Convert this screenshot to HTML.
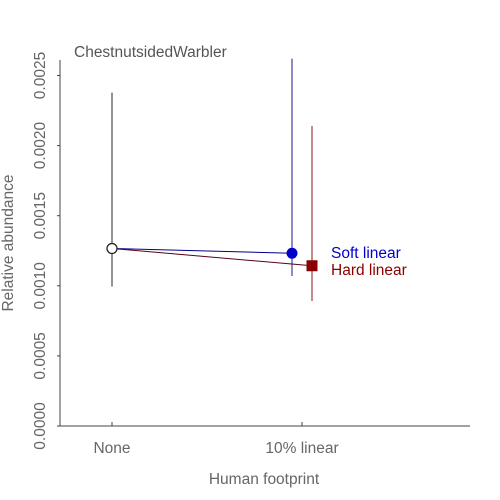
<!DOCTYPE html>
<html><head><meta charset="utf-8"><style>
body{margin:0;background:#fff}
svg{display:block;font-family:"Liberation Sans",sans-serif}
</style></head><body>
<svg width="500" height="500">
<g id="axes"></g>
<g id="marks"></g>
</svg>
<script>
const categories=["None","10% linear"];
const yTicks=[0,0.0005,0.0010,0.0015,0.0020,0.0025];
const yTickLabels=["0.0000","0.0005","0.0010","0.0015","0.0020","0.0025"];
const baseMean=[0.001266];
const baseLow=[0.000994];
const baseHigh=[0.002378];
const softMean=[0.001232];
const softLow=[0.00107];
const softHigh=[0.00262];
const hardMean=[0.001143];
const hardLow=[0.000892];
const hardHigh=[0.00214];
const NS="http://www.w3.org/2000/svg";
const FS=15.5;
const xS=i=>112+i*190;
const yS=v=>426-v*140200;
function mk(p,t,a,name){const e=document.createElementNS(NS,t);for(const k in a)e.setAttribute(k,a[k]);


p.appendChild(e);return e;}
const ax=document.getElementById('axes'),mg=document.getElementById('marks');
mk(ax,'line',{x1:60,y1:60,x2:60,y2:426,stroke:'#444'},'y-axis');
mk(ax,'line',{x1:60,y1:426,x2:470,y2:426,stroke:'#444'},'x-axis');
yTicks.forEach((v,i)=>{const y=yS(v);
mk(ax,'line',{x1:57,y1:y,x2:60,y2:y,stroke:'#444'},'y-tick');
const t=mk(ax,'text',{x:0,y:0,transform:`translate(45,${y}) rotate(-90)`,'text-anchor':'middle','font-size':FS,fill:'#666'},'y-tick-label');t.textContent=yTickLabels[i];});
categories.forEach((c,i)=>{const x=xS(i);
mk(ax,'line',{x1:x,y1:422,x2:x,y2:426,stroke:'#444'},'x-tick');
const t=mk(ax,'text',{x:x,y:453,'text-anchor':'middle','font-size':FS,fill:'#666'},'x-tick-label');t.textContent=c;});
let t=mk(ax,'text',{x:264,y:484,'text-anchor':'middle','font-size':FS,fill:'#666'},'x-axis-title');t.textContent='Human footprint';
t=mk(ax,'text',{x:0,y:0,transform:'translate(13,243) rotate(-90)','text-anchor':'middle','font-size':FS,fill:'#666'},'y-axis-title');t.textContent='Relative abundance';
t=mk(ax,'text',{x:74,y:57,'font-size':FS,fill:'#555'},'chart-title');t.textContent='ChestnutsidedWarbler';
const x0=xS(0),xs=xS(1)-10,xh=xS(1)+10;
mk(mg,'line',{x1:x0,y1:yS(baseLow[0]),x2:x0,y2:yS(baseHigh[0]),stroke:'#111','stroke-width':0.9},'none-error-bar');
mk(mg,'line',{x1:xs,y1:yS(softLow[0]),x2:xs,y2:yS(softHigh[0]),stroke:'#00007a','stroke-width':0.9},'soft-error-bar');
mk(mg,'line',{x1:xh,y1:yS(hardLow[0]),x2:xh,y2:yS(hardHigh[0]),stroke:'#7a0000','stroke-width':0.9},'hard-error-bar');
mk(mg,'line',{x1:x0,y1:yS(baseMean[0]),x2:xs,y2:yS(softMean[0]),stroke:'#00008b'},'soft-line');
mk(mg,'line',{x1:x0,y1:yS(baseMean[0]),x2:xh,y2:yS(hardMean[0]),stroke:'#5a0018'},'hard-line');
mk(mg,'circle',{cx:x0,cy:yS(baseMean[0]),r:5,fill:'#fff',stroke:'#222','stroke-width':1.3},'none-point');
mk(mg,'circle',{cx:xs,cy:yS(softMean[0]),r:5.5,fill:'#0000cd'},'soft-point');
mk(mg,'rect',{x:xh-5.5,y:yS(hardMean[0])-5.5,width:11,height:11,fill:'#8b0000'},'hard-point');
t=mk(mg,'text',{x:331,y:258,'font-size':FS,fill:'#0000cd'},'soft-label');t.textContent='Soft linear';
t=mk(mg,'text',{x:331,y:275,'font-size':FS,fill:'#8b0000'},'hard-label');t.textContent='Hard linear';
</script>
</body></html>
